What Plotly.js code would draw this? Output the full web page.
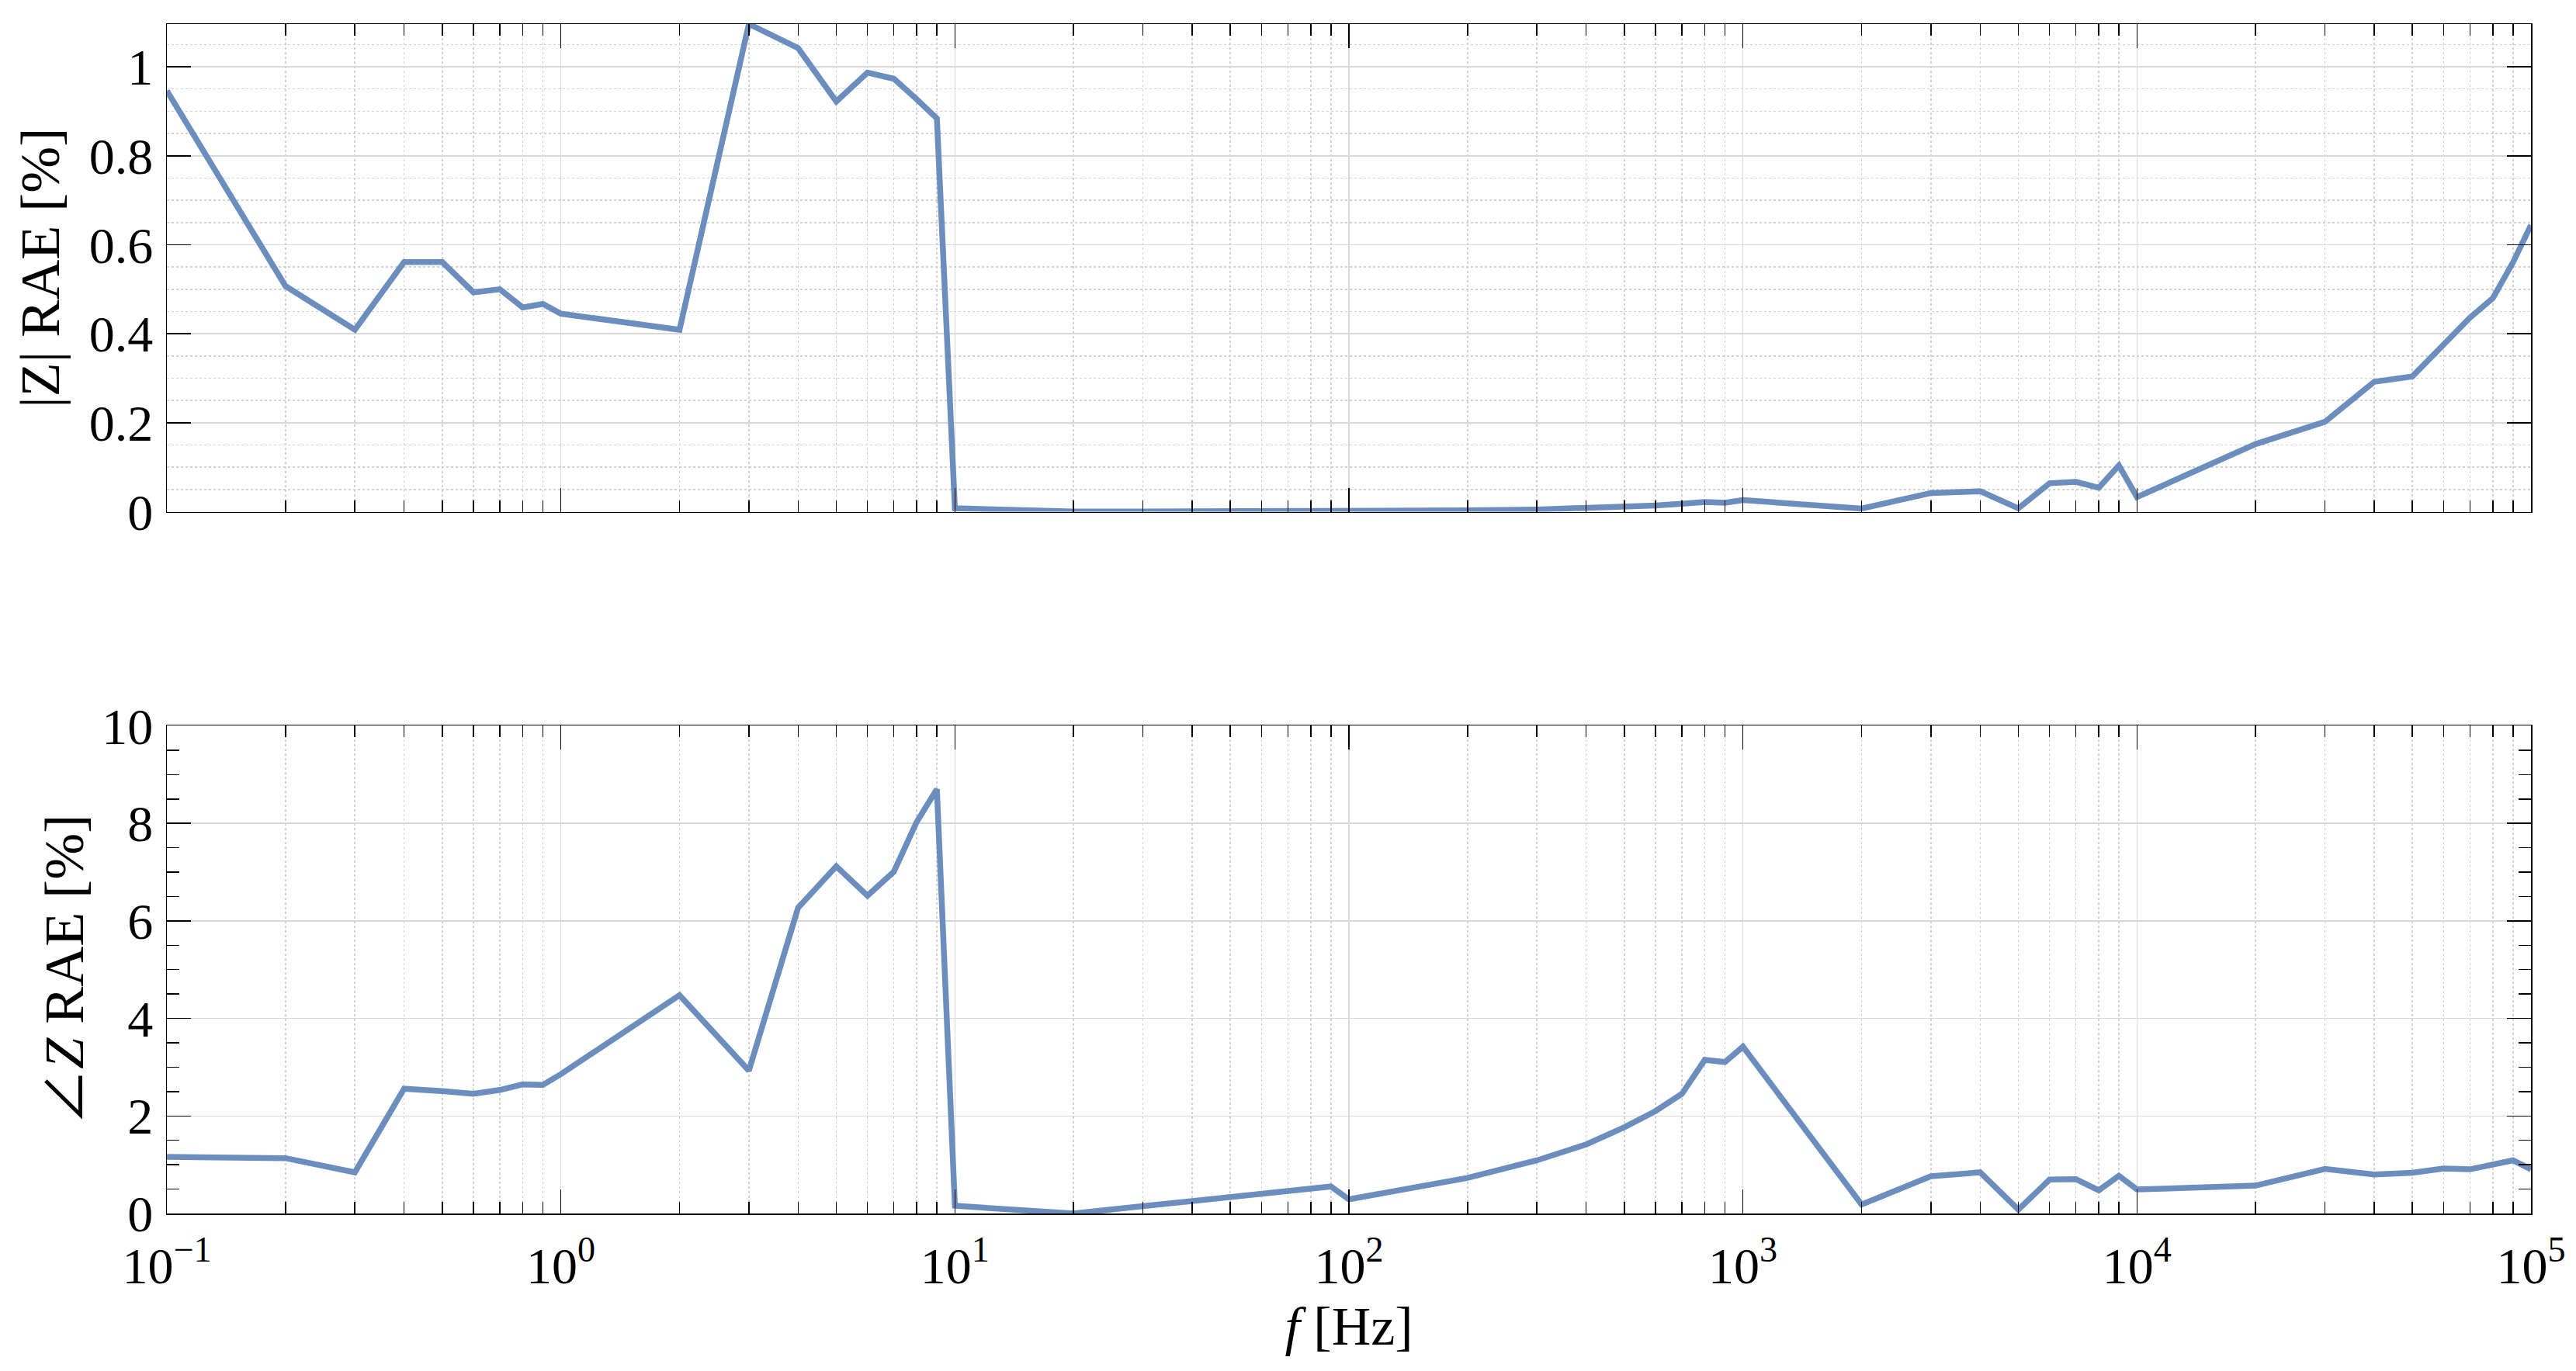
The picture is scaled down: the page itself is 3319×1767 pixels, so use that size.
<!DOCTYPE html>
<html>
<head>
<meta charset="utf-8">
<script src="https://cdn.plot.ly/plotly-3.0.1.min.js"></script>
<style>
  html, body { margin: 0; padding: 0; background: #ffffff; }
  #chart { width: 3319px; height: 1767px; }
</style>
</head>
<body>
<div id="chart"></div>
<script>
// ---- data ----
const frequency = [
  0.1, 0.2, 0.3, 0.4, 0.5, 0.6, 0.7, 0.8, 0.9,
  1, 2, 3, 4, 5, 6, 7, 8, 9,
  10, 20, 30, 40, 50, 60, 70, 80, 90,
  100, 200, 300, 400, 500, 600, 700, 800, 900,
  1000, 2000, 3000, 4000, 5000, 6000, 7000, 8000, 9000,
  10000, 20000, 30000, 40000, 50000, 60000, 70000, 80000, 90000,
  100000
];

const magnitudeRAE = [
  0.946, 0.507, 0.409, 0.561, 0.561, 0.493, 0.500, 0.459, 0.467,
  0.445, 0.409, 1.096, 1.042, 0.922, 0.987, 0.973, 0.927, 0.884,
  0.0078, 0.0005, 0.0004, 0.0004, 0.0005, 0.0006, 0.0007, 0.0008, 0.0010,
  0.0017, 0.0030, 0.0050, 0.0075, 0.0100, 0.0140, 0.0180, 0.0220, 0.0200,
  0.026, 0.0072, 0.042, 0.046, 0.0075, 0.064, 0.067, 0.054, 0.104,
  0.033, 0.152, 0.202, 0.292, 0.304, 0.375, 0.436, 0.480, 0.560,
  0.644
];

const phaseRAE = [
  1.161, 1.135, 0.844, 2.559, 2.510, 2.454, 2.533, 2.647, 2.639,
  2.858, 4.477, 2.929, 6.270, 7.120, 6.517, 7.010, 8.030, 8.700,
  0.158, 0.000, 0.150, 0.255, 0.340, 0.405, 0.460, 0.510, 0.554,
  0.290, 0.730, 1.090, 1.416, 1.768, 2.100, 2.454, 3.149, 3.105,
  3.420, 0.185, 0.765, 0.844, 0.079, 0.695, 0.704, 0.475, 0.774,
  0.4925, 0.572, 0.915, 0.800, 0.836, 0.923, 0.906, 0.994, 1.090,
  0.906
];

const xTickValues = [0.1, 1, 10, 100, 1000, 10000, 100000];
const xTickLabels = ['10<sup>−1</sup>', '10<sup>0</sup>', '10<sup>1</sup>', '10<sup>2</sup>',
                     '10<sup>3</sup>', '10<sup>4</sup>', '10<sup>5</sup>'];

const magTitle = '|Z| RAE [%]';
const phaseTitle = '<span style="font-family:\'Noto Sans CJK JP\'">∠</span><i>Z</i> RAE [%]';
const freqTitle = '<i>f</i> [Hz]';

// ---- styling ----
const FONT = 'Liberation Serif, Times New Roman, serif';
const LINE_COLOR = 'rgb(108,142,191)';
const GRID = '#d9d9d9';
const MINOR_GRID = '#d2d2d2';
const TICK_SIZE = 66;
const TITLE_SIZE = 72;

function xAxis(showLabels) {
  return {
    type: 'log',
    range: [-1, 5],
    tickmode: 'array',
    tickvals: xTickValues,
    ticktext: xTickLabels,
    showticklabels: showLabels,
    ticks: 'inside',
    ticklen: 31,
    tickwidth: 1.5,
    tickcolor: '#000000',
    showline: true,
    linecolor: '#000000',
    linewidth: 1.5,
    mirror: 'allticks',
    showgrid: true,
    gridcolor: GRID,
    gridwidth: 1.5,
    zeroline: false,
    tickfont: { family: FONT, size: TICK_SIZE, color: '#000000' },
    ticklabelstandoff: 9,
    minor: {
      dtick: 'D1',
      ticks: 'inside',
      ticklen: 15,
      tickwidth: 1.5,
      tickcolor: '#000000',
      showgrid: true,
      gridcolor: MINOR_GRID,
      gridwidth: 1.5,
      griddash: 'dot'
    }
  };
}

const traces = [
  {
    x: frequency, y: magnitudeRAE, xaxis: 'x', yaxis: 'y',
    type: 'scatter', mode: 'lines',
    line: { color: LINE_COLOR, width: 7.5 },
    hoverinfo: 'skip', showlegend: false
  },
  {
    x: frequency, y: phaseRAE, xaxis: 'x2', yaxis: 'y2',
    type: 'scatter', mode: 'lines',
    line: { color: LINE_COLOR, width: 7.5 },
    hoverinfo: 'skip', showlegend: false
  }
];

const xTop = xAxis(false);
xTop.anchor = 'y';
const xBottom = xAxis(true);
xBottom.anchor = 'y2';
xBottom.title = { text: freqTitle, font: { family: FONT, size: 70, color: '#000000' }, standoff: 17 };

const layout = {
  width: 3319,
  height: 1767,
  margin: { l: 215, r: 58, t: 31, b: 203, pad: 0 },
  paper_bgcolor: '#ffffff',
  plot_bgcolor: '#ffffff',
  font: { family: FONT, color: '#000000' },
  showlegend: false,
  xaxis: xTop,
  xaxis2: xBottom,
  yaxis: {
    domain: [0.59, 1],
    anchor: 'x',
    range: [0, 1.096],
    tickmode: 'linear',
    tick0: 0,
    dtick: 0.2,
    ticks: 'inside',
    ticklen: 31,
    tickwidth: 1.5,
    tickcolor: '#000000',
    showline: true,
    linecolor: '#000000',
    linewidth: 1.5,
    mirror: 'allticks',
    showgrid: true,
    gridcolor: GRID,
    gridwidth: 1.5,
    zeroline: false,
    tickfont: { family: FONT, size: TICK_SIZE, color: '#000000' },
    ticklabelstandoff: 3,
    minor: {
      tickmode: 'linear',
      dtick: 0.05,
      ticks: '',
      showgrid: true,
      gridcolor: MINOR_GRID,
      gridwidth: 1.5,
      griddash: 'dot'
    },
    title: { text: magTitle, font: { family: FONT, size: TITLE_SIZE, color: '#000000' }, standoff: 14 }
  },
  yaxis2: {
    domain: [0, 0.41],
    anchor: 'x2',
    range: [0, 10],
    tickmode: 'linear',
    tick0: 0,
    dtick: 2,
    ticks: 'inside',
    ticklen: 31,
    tickwidth: 1.5,
    tickcolor: '#000000',
    showline: true,
    linecolor: '#000000',
    linewidth: 1.5,
    mirror: 'allticks',
    showgrid: true,
    gridcolor: GRID,
    gridwidth: 1.5,
    zeroline: false,
    tickfont: { family: FONT, size: TICK_SIZE, color: '#000000' },
    ticklabelstandoff: 3,
    minor: {
      tickmode: 'linear',
      dtick: 0.5,
      ticks: 'inside',
      ticklen: 16,
      tickwidth: 1.5,
      tickcolor: '#000000',
      showgrid: false
    },
    title: { text: phaseTitle, font: { family: FONT, size: TITLE_SIZE, color: '#000000' }, standoff: 0 }
  }
};

Plotly.newPlot('chart', traces, layout, { staticPlot: true, displayModeBar: false });
</script>
</body>
</html>
